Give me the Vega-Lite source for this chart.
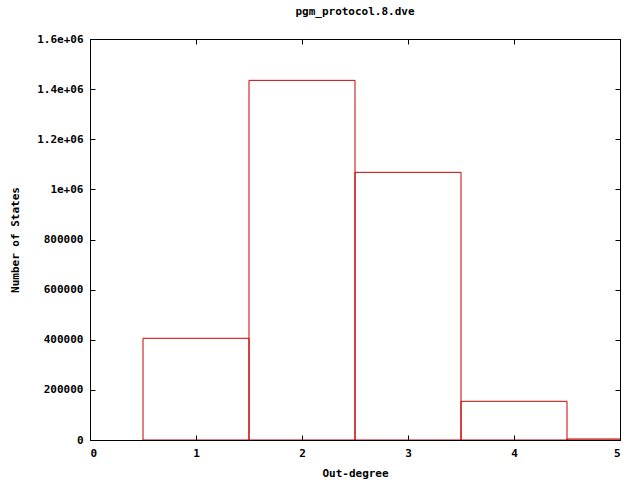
{
  "$schema": "https://vega.github.io/schema/vega-lite/v6.json",
  "autosize": {"type": "none"},
  "width": 530,
  "height": 401,
  "padding": {"left": 90, "top": 39, "right": 20, "bottom": 40},
  "background": "white",
  "title": {"text": "pgm_protocol.8.dve", "font": "DejaVu Sans Mono", "fontSize": 11, "fontWeight": "bold", "color": "black", "offset": 16},
  "config": {
    "view": {"stroke": "black", "strokeWidth": 1},
    "axis": {"labelFont": "DejaVu Sans Mono", "labelFontSize": 11, "labelFontWeight": "bold", "labelColor": "black", "titleFont": "DejaVu Sans Mono", "titleFontSize": 11, "titleFontWeight": "bold", "titleColor": "black", "grid": false, "domain": false, "tickColor": "black", "tickSize": -5}
  },
  "data": {"values": [
    {"deg": 1, "x0": 0.5, "x1": 1.5, "states": 405800},
    {"deg": 2, "x0": 1.5, "x1": 2.5, "states": 1435000},
    {"deg": 3, "x0": 2.5, "x1": 3.5, "states": 1068000},
    {"deg": 4, "x0": 3.5, "x1": 4.5, "states": 154400},
    {"deg": 5, "x0": 4.5, "x1": 5.5, "states": 4000}
  ]},
  "resolve": {"axis": {"x": "independent", "y": "independent"}},
  "layer": [
    {
      "mark": {"type": "rect", "fill": null, "fillOpacity": 0, "stroke": "#cc0000", "strokeWidth": 1, "clip": true},
      "encoding": {
        "x": {"field": "x0", "type": "quantitative", "scale": {"domain": [0, 5], "nice": false}, "axis": {"orient": "bottom", "title": "Out-degree", "values": [0, 1, 2, 3, 4, 5], "format": "d", "labelPadding": 12, "titleY": 36, "titleBaseline": "alphabetic"}},
        "x2": {"field": "x1"},
        "y": {"field": "states", "type": "quantitative", "scale": {"domain": [0, 1600000], "nice": false}, "axis": {"orient": "left", "title": "Number of States", "values": [0, 200000, 400000, 600000, 800000, 1000000, 1200000, 1400000, 1600000], "labelExpr": "datum.value == 0 ? '0' : datum.value == 1000000 ? '1e+06' : datum.value > 1000000 ? format(datum.value/1000000, '.1f') + 'e+06' : format(datum.value, 'd')", "labelPadding": 12, "titleX": -70}},
        "y2": {"datum": 0}
      }
    },
    {
      "mark": {"type": "rect", "opacity": 0},
      "encoding": {
        "x": {"field": "x0", "type": "quantitative", "scale": {"domain": [0, 5], "nice": false}, "axis": {"orient": "top", "title": null, "labels": false, "values": [0, 1, 2, 3, 4, 5]}},
        "x2": {"field": "x1"},
        "y": {"field": "states", "type": "quantitative", "scale": {"domain": [0, 1600000], "nice": false}, "axis": {"orient": "right", "title": null, "labels": false, "values": [0, 200000, 400000, 600000, 800000, 1000000, 1200000, 1400000, 1600000]}},
        "y2": {"datum": 0}
      }
    }
  ]
}
